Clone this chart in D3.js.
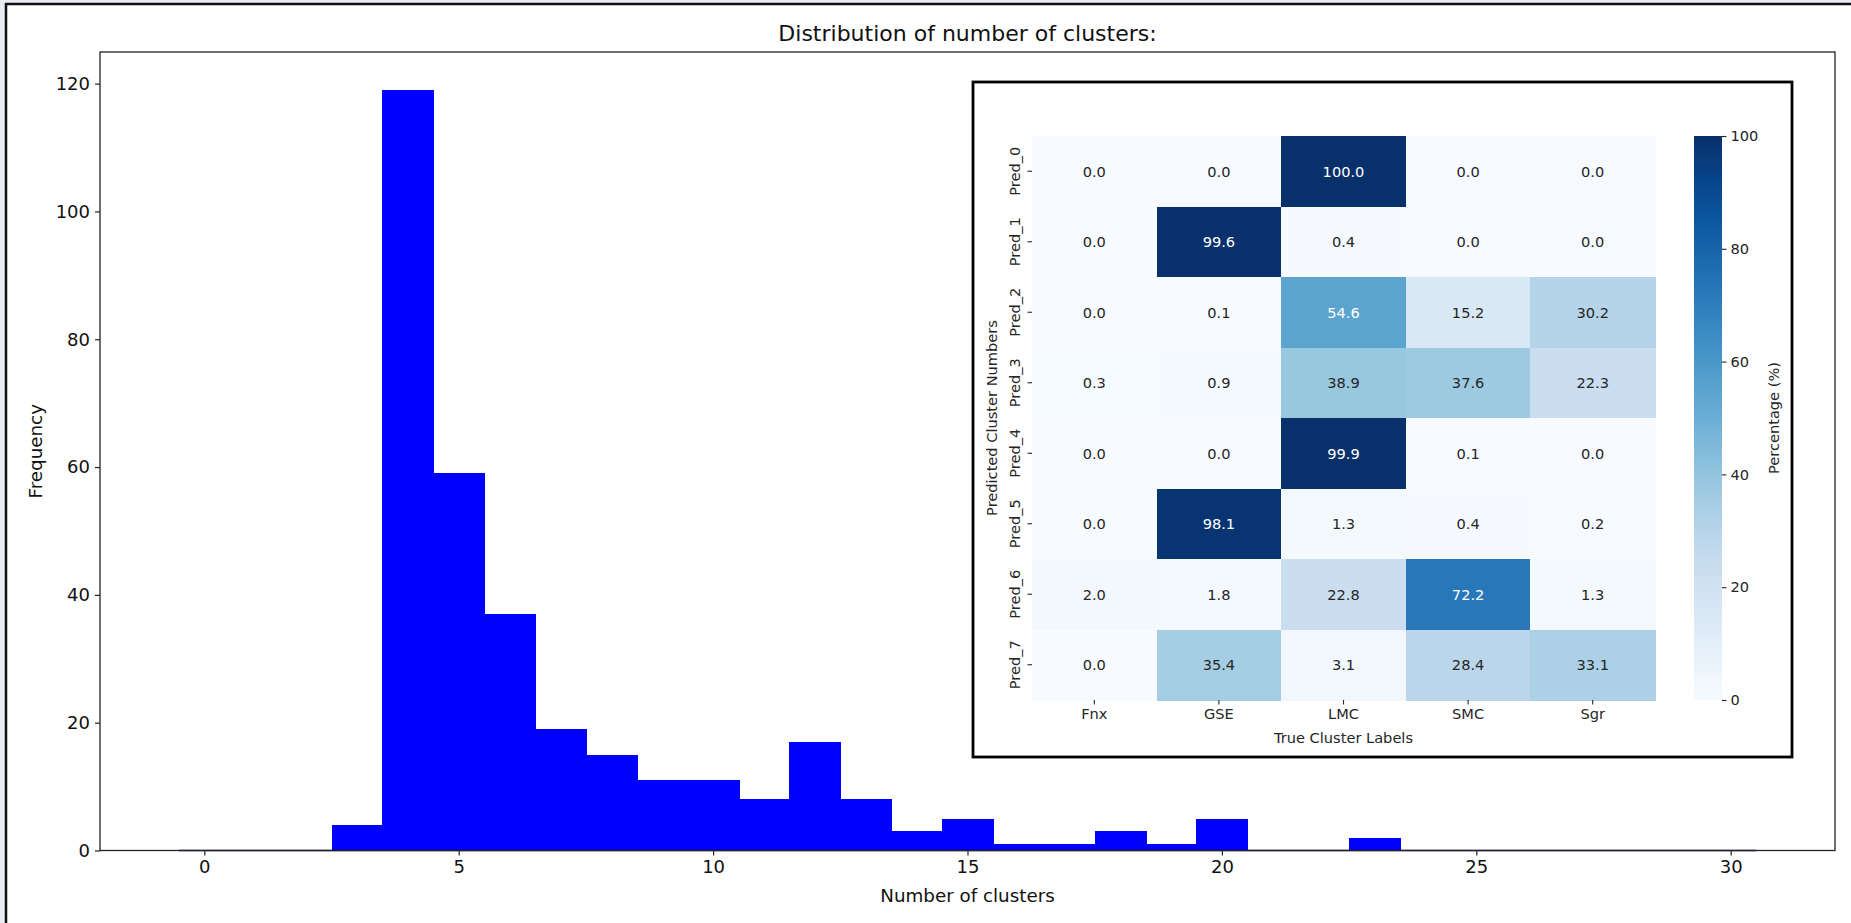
<!DOCTYPE html>
<html>
<head>
<meta charset="utf-8">
<script src="https://cdn.jsdelivr.net/npm/d3@7"></script>
<style>
  html, body { margin: 0; padding: 0; background: #e9edf2; }
  svg { display: block; font-family: "DejaVu Sans", sans-serif; }
</style>
</head>
<body>
<div id="chart"></div>
<script>
// histogram: counts per integer number of clusters (bins of width 1 centred on the integer)
const clusterCounts = [0, 1, 2, 3, 4, 5, 6, 7, 8, 9, 10, 11, 12, 13, 14, 15,
  16, 17, 18, 19, 20, 21, 22, 23, 24, 25, 26, 27, 28, 29, 30];
const frequencies = [0, 0, 0, 4, 119, 59, 37, 19, 15, 11, 11, 8, 17, 8, 3, 5,
  1, 1, 3, 1, 5, 0, 0, 2, 0, 0, 0, 0, 0, 0, 0];
const xTicks = [0, 5, 10, 15, 20, 25, 30];
const yTicks = [0, 20, 40, 60, 80, 100, 120];

// inset confusion matrix (percent)
const trueLabels = ["Fnx", "GSE", "LMC", "SMC", "Sgr"];
const predLabels = ["Pred_0", "Pred_1", "Pred_2", "Pred_3", "Pred_4", "Pred_5", "Pred_6", "Pred_7"];
const percentages = [
  [0.0, 0.0, 100.0, 0.0, 0.0],
  [0.0, 99.6, 0.4, 0.0, 0.0],
  [0.0, 0.1, 54.6, 15.2, 30.2],
  [0.3, 0.9, 38.9, 37.6, 22.3],
  [0.0, 0.0, 99.9, 0.1, 0.0],
  [0.0, 98.1, 1.3, 0.4, 0.2],
  [2.0, 1.8, 22.8, 72.2, 1.3],
  [0.0, 35.4, 3.1, 28.4, 33.1]
];
const cbarTicks = [0, 20, 40, 60, 80, 100];

const W = 1851, H = 923;
const plot = {left: 100, right: 1835, top: 52, bottom: 850.5};

const svg = d3.select("#chart").append("svg")
  .attr("width", W).attr("height", H);

// window frame
svg.append("rect")
  .attr("x", 6).attr("y", 4).attr("width", W + 20).attr("height", H + 20)
  .attr("fill", "white").attr("stroke", "#111").attr("stroke-width", 2.5);

// ---------- histogram ----------
const x = d3.scaleLinear().domain([-2.05, 32.05]).range([plot.left, plot.right]);
const y = d3.scaleLinear().domain([0, 124.95]).range([plot.bottom, plot.top]);

const bins = clusterCounts.map((c, i) => ({x0: c - 0.5, x1: c + 0.5, n: frequencies[i]}));

svg.append("g")
  .attr("shape-rendering", "crispEdges")
  .selectAll("rect")
  .data(bins.filter(d => d.n > 0))
  .join("rect")
    .attr("x", d => Math.round(x(d.x0)))
    .attr("width", d => Math.round(x(d.x1)) - Math.round(x(d.x0)) + 1)
    .attr("y", d => y(d.n))
    .attr("height", d => y(0) - y(d.n))
    .attr("fill", "#0000ff");

// zero-height bins still leave a thin edge along the baseline
svg.append("line")
  .attr("x1", x(bins[0].x0)).attr("x2", x(bins[bins.length - 1].x1))
  .attr("y1", y(0)).attr("y2", y(0))
  .attr("stroke", "#0a0a5a").attr("stroke-width", 1.6);

const xAxis = svg.append("g")
  .attr("transform", `translate(0,${plot.bottom})`)
  .call(d3.axisBottom(x).tickValues(xTicks).tickSize(5).tickPadding(5).tickFormat(d3.format("d")));
const yAxis = svg.append("g")
  .attr("transform", `translate(${plot.left},0)`)
  .call(d3.axisLeft(y).tickValues(yTicks).tickSize(5).tickPadding(5).tickFormat(d3.format("d")));

[xAxis, yAxis].forEach(g => {
  g.select(".domain").remove();
  g.selectAll("line").attr("stroke", "#222").attr("stroke-width", 1.2);
  g.selectAll("text").attr("font-size", 18).attr("fill", "#111")
    .attr("font-family", "DejaVu Sans");
});

// spines
svg.append("rect")
  .attr("x", plot.left).attr("y", plot.top)
  .attr("width", plot.right - plot.left).attr("height", plot.bottom - plot.top)
  .attr("fill", "none").attr("stroke", "#222").attr("stroke-width", 1.3);

svg.append("text")
  .attr("x", (plot.left + plot.right) / 2).attr("y", 41)
  .attr("text-anchor", "middle").attr("font-size", 22).attr("fill", "#111")
  .text("Distribution of number of clusters:");

svg.append("text")
  .attr("x", (plot.left + plot.right) / 2).attr("y", 902)
  .attr("text-anchor", "middle").attr("font-size", 18.3).attr("fill", "#111")
  .text("Number of clusters");

svg.append("text")
  .attr("transform", `translate(42,${(plot.top + plot.bottom) / 2}) rotate(-90)`)
  .attr("text-anchor", "middle").attr("font-size", 18.3).attr("fill", "#111")
  .text("Frequency");

// ---------- inset heatmap ----------
const inset = {left: 973, top: 82, right: 1792, bottom: 757};
svg.append("rect")
  .attr("x", inset.left).attr("y", inset.top)
  .attr("width", inset.right - inset.left).attr("height", inset.bottom - inset.top)
  .attr("fill", "white").attr("stroke", "#000").attr("stroke-width", 2.8);

const heat = {left: 1032, right: 1655, top: 136, bottom: 700};
const blues9 = ["#f7fbff", "#deebf7", "#c6dbef", "#9ecae1", "#6baed6", "#4292c6", "#2171b5", "#08519c", "#08306b"];
const color = d3.scaleLinear()
  .domain(d3.range(9).map(i => i * 100 / 8))
  .range(blues9)
  .interpolate(d3.interpolateRgb)
  .clamp(true);

const xb = d3.scaleBand().domain(trueLabels).range([heat.left, heat.right]);
const yb = d3.scaleBand().domain(predLabels).range([heat.top, heat.bottom]);

const cells = [];
percentages.forEach((row, i) => row.forEach((v, j) => cells.push({r: predLabels[i], c: trueLabels[j], v: v})));

// relative luminance, as seaborn picks the annotation colour
function luminance(c) {
  const rgb = d3.rgb(c);
  const ch = [rgb.r, rgb.g, rgb.b].map(u => {
    u = u / 255;
    return u <= 0.03928 ? u / 12.92 : Math.pow((u + 0.055) / 1.055, 2.4);
  });
  return 0.2126 * ch[0] + 0.7152 * ch[1] + 0.0722 * ch[2];
}

const cellG = svg.append("g");
cellG.append("g")
  .attr("shape-rendering", "crispEdges")
  .selectAll("rect")
  .data(cells)
  .join("rect")
    .attr("x", d => Math.round(xb(d.c)))
    .attr("y", d => Math.round(yb(d.r)))
    .attr("width", d => Math.round(xb(d.c) + xb.bandwidth()) - Math.round(xb(d.c)) + 1)
    .attr("height", d => Math.round(yb(d.r) + yb.bandwidth()) - Math.round(yb(d.r)) + 1)
    .attr("fill", d => color(d.v));

cellG.selectAll("text")
  .data(cells)
  .join("text")
    .attr("x", d => xb(d.c) + xb.bandwidth() / 2)
    .attr("y", d => yb(d.r) + yb.bandwidth() / 2)
    .attr("dy", "0.36em")
    .attr("text-anchor", "middle")
    .attr("font-size", 14.6)
    .attr("fill", d => luminance(color(d.v)) > 0.408 ? "#262626" : "#ffffff")
    .text(d => d.v.toFixed(1));

// heatmap axes
const hx = svg.append("g")
  .attr("transform", `translate(0,${heat.bottom})`)
  .call(d3.axisBottom(xb).tickSize(4.5).tickPadding(4));
const hy = svg.append("g")
  .attr("transform", `translate(${heat.left},0)`)
  .call(d3.axisLeft(yb).tickSize(4.5).tickPadding(4));
[hx, hy].forEach(g => {
  g.select(".domain").remove();
  g.selectAll("line").attr("stroke", "#262626").attr("stroke-width", 1.1);
  g.selectAll("text").attr("font-size", 14.6).attr("fill", "#262626")
    .attr("font-family", "DejaVu Sans");
});
hy.selectAll(".tick text")
  .attr("x", null).attr("dy", null)
  .attr("text-anchor", "middle")
  .attr("transform", "translate(-12,0) rotate(-90)");

svg.append("text")
  .attr("x", (heat.left + heat.right) / 2).attr("y", 743)
  .attr("text-anchor", "middle").attr("font-size", 14.6).attr("fill", "#262626")
  .text("True Cluster Labels");

svg.append("text")
  .attr("transform", `translate(997,${(heat.top + heat.bottom) / 2}) rotate(-90)`)
  .attr("text-anchor", "middle").attr("font-size", 14.6).attr("fill", "#262626")
  .text("Predicted Cluster Numbers");

// colorbar
const cbar = {left: 1694, right: 1722};
const cy = d3.scaleLinear().domain([0, 100]).range([heat.bottom, heat.top]);

const grad = svg.append("defs").append("linearGradient")
  .attr("id", "blues").attr("x1", 0).attr("y1", 1).attr("x2", 0).attr("y2", 0);
grad.selectAll("stop")
  .data(d3.range(0, 101, 5))
  .join("stop")
    .attr("offset", d => d + "%")
    .attr("stop-color", d => color(d));

svg.append("rect")
  .attr("x", cbar.left).attr("y", heat.top)
  .attr("width", cbar.right - cbar.left).attr("height", heat.bottom - heat.top)
  .attr("fill", "url(#blues)");

const cAxis = svg.append("g")
  .attr("transform", `translate(${cbar.right},0)`)
  .call(d3.axisRight(cy).tickValues(cbarTicks).tickSize(4.5).tickPadding(4));
cAxis.select(".domain").remove();
cAxis.selectAll("line").attr("stroke", "#262626").attr("stroke-width", 1.1);
cAxis.selectAll("text").attr("font-size", 14.6).attr("fill", "#262626")
  .attr("font-family", "DejaVu Sans");

svg.append("text")
  .attr("transform", `translate(1779,${(heat.top + heat.bottom) / 2}) rotate(-90)`)
  .attr("text-anchor", "middle").attr("font-size", 14.6).attr("fill", "#262626")
  .text("Percentage (%)");
</script>
</body>
</html>
